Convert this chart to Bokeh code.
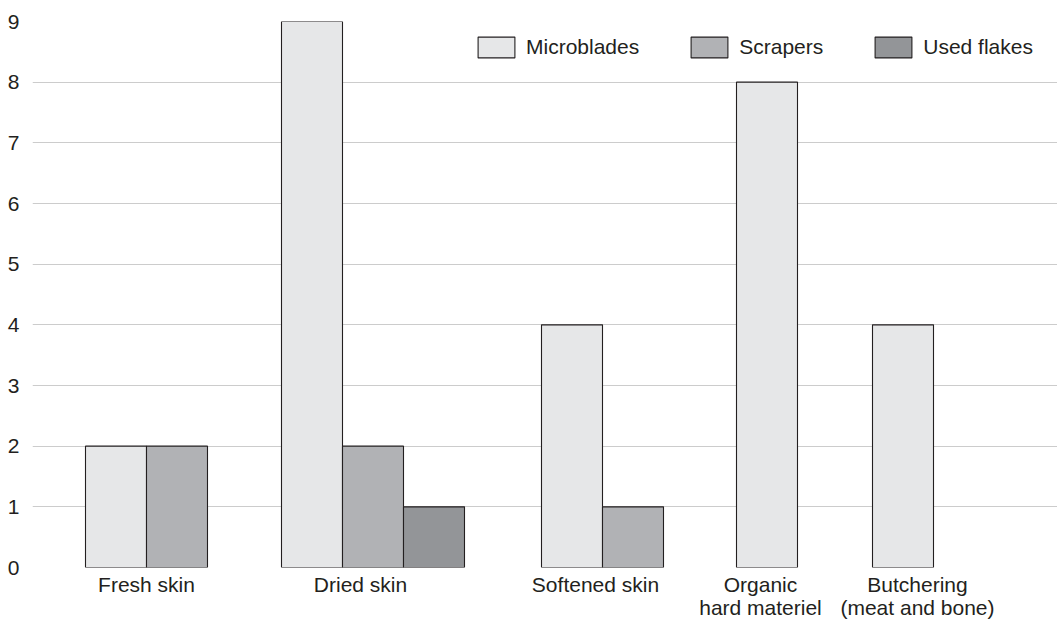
from bokeh.plotting import figure
from bokeh.models import Range1d, FixedTicker, Legend, LegendItem, ColumnDataSource
from bokeh.embed import file_html
from bokeh.resources import INLINE

# ---- data ----
categories = ["Fresh skin", "Dried skin", "Softened skin",
              "Organic\nhard materiel", "Butchering\n(meat and bone)"]
series_names = ["Microblades", "Scrapers", "Used flakes"]
microblades = [2, 9, 4, 8, 4]
scrapers = [2, 2, 1, 0, 0]
used_flakes = [0, 1, 0, 0, 0]
y_ticks = [0, 1, 2, 3, 4, 5, 6, 7, 8, 9]

# ---- layout (x in image-pixel units) ----
group_left = [85, 281, 541, 736, 872]
label_x = [146, 360, 595, 760, 917]
bar_w = 61
colors = ["#e6e7e8", "#b1b2b5", "#939598"]
outline = "#231f20"
FONT = "Liberation Sans"

W, H = 1057, 623
LEFT = 32
p = figure(width=W, height=H, output_backend="svg", toolbar_location=None,
           x_range=Range1d(LEFT, W), y_range=Range1d(0, 9),
           min_border_left=LEFT, min_border_right=0, min_border_top=21,
           min_border_bottom=56)
p.outline_line_color = None
p.background_fill_color = "white"

series = [microblades, scrapers, used_flakes]
renderers = []
for i, (name, vals) in enumerate(zip(series_names, series)):
    xs, tops = [], []
    for g, v in enumerate(vals):
        if v > 0:
            xs.append(group_left[g] + i * bar_w + bar_w / 2)
            tops.append(v)
    src = ColumnDataSource(dict(x=xs, top=tops))
    r = p.vbar(x="x", top="top", bottom=0, width=bar_w, source=src,
               fill_color=colors[i], line_color=outline, line_width=1.1)
    renderers.append((name, r))

# axes
p.xgrid.grid_line_color = None
p.ygrid.grid_line_color = "#cccccc"
p.ygrid.grid_line_width = 1
p.ygrid.ticker = FixedTicker(ticks=y_ticks)

p.yaxis.ticker = FixedTicker(ticks=y_ticks)
p.yaxis.axis_line_color = None
p.yaxis.major_tick_line_color = None
p.yaxis.minor_tick_line_color = None
p.yaxis.major_tick_out = 0
p.yaxis.major_tick_in = 0
p.yaxis.major_label_standoff = 13
p.yaxis.major_label_text_font = FONT
p.yaxis.major_label_text_font_size = "21px"
p.yaxis.major_label_text_color = outline
p.yaxis.major_label_text_baseline = "alphabetic"

p.xaxis.ticker = FixedTicker(ticks=label_x)
p.xaxis.major_label_overrides = {x: c for x, c in zip(label_x, categories)}
p.xaxis.axis_line_color = None
p.xaxis.major_tick_line_color = None
p.xaxis.minor_tick_line_color = None
p.xaxis.major_tick_out = 0
p.xaxis.major_tick_in = 0
p.xaxis.major_label_standoff = 5
p.xaxis.major_label_text_font = FONT
p.xaxis.major_label_text_font_size = "21px"
p.xaxis.major_label_text_color = outline
p.xaxis.major_label_text_line_height = 1.0

legend = Legend(items=[LegendItem(label=n, renderers=[r]) for n, r in renderers],
                orientation="horizontal", location=(441, 507),
                glyph_width=46, glyph_height=26, label_standoff=7, spacing=47,
                padding=0, margin=0, border_line_color=None,
                background_fill_alpha=0,
                label_text_font=FONT, label_text_font_size="21px",
                label_text_color=outline)
p.add_layout(legend)

open("out.html", "w").write(file_html(p, INLINE))
